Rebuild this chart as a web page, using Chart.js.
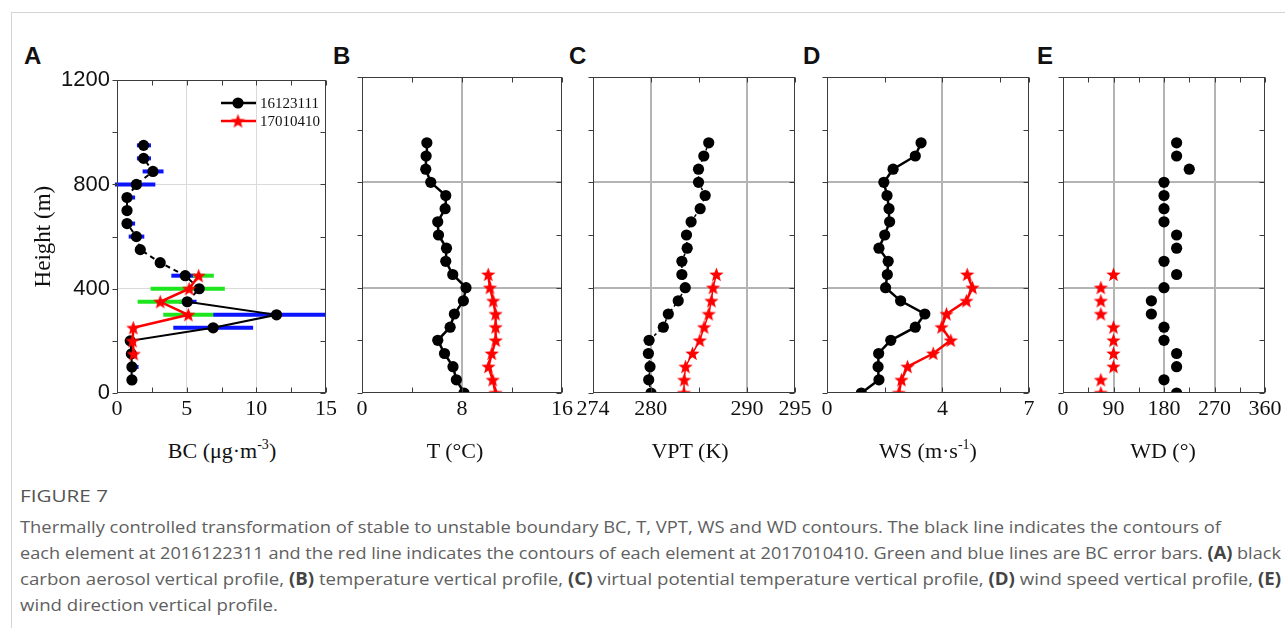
<!DOCTYPE html>
<html>
<head>
<meta charset="utf-8">
<script src="https://cdn.jsdelivr.net/npm/chart.js@4.4.0/dist/chart.umd.min.js"></script>
<style>
html,body{margin:0;padding:0;background:#fff;}
body{width:1285px;height:628px;position:relative;overflow:hidden;}
#frame{position:absolute;left:11px;top:12px;width:1290px;height:640px;border-top:1px solid #d4d4d4;border-left:1px solid #d4d4d4;}
canvas{position:absolute;}
.lbl{position:absolute;top:44px;font:bold 24px "Liberation Sans",Arial,sans-serif;line-height:24px;color:#111;}
.xt{position:absolute;top:438px;font:22px "Liberation Serif","Times New Roman",serif;line-height:26px;color:#111;white-space:nowrap;transform:translateX(-50%);}
.xt sup{font-size:14px;vertical-align:0;position:relative;top:-9px;}
.cap{position:absolute;left:20px;font-family:"Open Sans",sans-serif;font-size:17px;line-height:26px;color:#606060;white-space:nowrap;transform-origin:0 50%;}
.cap b{color:#444;}
#figno{font-size:17px;color:#555;}
</style>
</head>
<body>
<div id="frame"></div>

<div class="lbl" style="left:24px">A</div>
<div class="lbl" style="left:333px">B</div>
<div class="lbl" style="left:569px">C</div>
<div class="lbl" style="left:803px">D</div>
<div class="lbl" style="left:1037px">E</div>

<canvas id="cA"></canvas>
<canvas id="cB"></canvas>
<canvas id="cC"></canvas>
<canvas id="cD"></canvas>
<canvas id="cE"></canvas>

<div class="xt" style="left:222px">BC (μg·m<sup>-3</sup>)</div>
<div class="xt" style="left:455px">T (°C)</div>
<div class="xt" style="left:690px">VPT (K)</div>
<div class="xt" style="left:928px">WS (m·s<sup>-1</sup>)</div>
<div class="xt" style="left:1163px">WD (°)</div>

<div class="cap fit" id="figno" style="top:483px" data-w="88">FIGURE 7</div>
<div class="cap fit" style="top:514px" data-w="1201">Thermally controlled transformation of stable to unstable boundary BC, T, VPT, WS and WD contours. The black line indicates the contours of</div>
<div class="cap fit" style="top:540px" data-w="1261">each element at 2016122311 and the red line indicates the contours of each element at 2017010410. Green and blue lines are BC error bars. <b>(A)</b> black</div>
<div class="cap fit" style="top:566px" data-w="1261">carbon aerosol vertical profile, <b>(B)</b> temperature vertical profile, <b>(C)</b> virtual potential temperature vertical profile, <b>(D)</b> wind speed vertical profile, <b>(E)</b></div>
<div class="cap" id="last" style="top:592px">wind direction vertical profile.</div>

<script>
// heights (m), bottom to top
const heights=[0,50,100,150,200,250,300,350,400,450,500,550,600,650,700,750,800,850,900,950];
const redHeights=[0,50,100,150,200,250,300,350,400,450];
const bcHeights=[50,100,150,200,250,300,350,400,450,500,550,600,650,700,750,800,850,900,950];
const bcRedHeights=[150,200,250,300,350,400,450];

const seriesNames=['16123111','17010410'];

// A: black carbon
const bcBlack=[1.07,1.07,1.03,0.95,6.9,11.45,5.04,5.9,4.9,3.1,1.67,1.39,0.72,0.72,0.72,1.39,2.58,1.91,1.91];
const bcRed=[1.2,1.12,1.17,5.12,3.1,5.18,5.86];
// error bars (blue for black series, green for red series)
const blueErrH=[100,250,300,350,450,600,650,750,800,850,900,950];
const blueErrLo=[0.84,4.04,6.9,4.47,3.9,0.84,0.4,0.4,-0.15,1.84,1.43,1.43];
const blueErrHi=[1.55,9.77,15,5.71,5.6,1.96,1.3,1.3,2.75,3.34,2.44,2.44];
const greenErrH=[300,350,400,450];
const greenErrLo=[3.32,1.48,2.41,5.45];
const greenErrHi=[6.9,5.11,7.74,6.95];

// B: temperature
const tBlack=[8.16,7.55,7.28,6.6,6.06,7.05,7.39,8.11,8.32,7.26,6.7,6.76,6.12,6.06,6.65,6.7,5.5,5.1,5.13,5.19];
const tRed=[10.68,10.46,10.12,10.38,10.7,10.69,10.69,10.5,10.24,10.1];

// C: virtual potential temperature
const vptBlack=[280.03,279.79,279.93,279.76,279.83,281.31,281.83,282.86,283.59,283.24,283.24,283.79,283.72,284.2,285.14,285.66,284.97,284.97,285.52,286.03];
const vptRed=[283.45,283.48,283.62,284.34,285.1,285.55,286.03,286.31,286.48,286.83];

// D: wind speed
const wsBlack=[1.19,1.8,1.77,1.79,2.21,3.06,3.39,2.55,2.03,2.09,2.12,1.8,2.0,2.17,2.15,2.08,1.97,2.29,3.06,3.26];
const wsRed=[2.49,2.58,2.79,3.68,4.29,3.97,4.14,4.83,5.04,4.86];

// E: wind direction
const wdBlack=[202.5,180,202.5,202.5,180,180,157.5,157.5,180,202.5,180,202.5,202.5,180,180,180,180,225,202.5,202.5];
const wdRed=[67.5,67.5,90,90,90,90,67.5,67.5,67.5,90];

// ticks
const yTicks=[0,200,400,600,800,1000,1200];
const yLabels=[0,400,800,1200];
const yGrid=[400,800];
const bcTicks=[0,2.5,5,7.5,10,12.5,15], bcLabels=[0,5,10,15], bcGrid=[5,10];
const tTicks=[0,4,8,12,16], tLabels=[0,8,16], tGrid=[8];
const vptTicks=[274,280,285,290,295], vptLabels=[274,280,290,295], vptGrid=[280,290];
const wsTicks=[0,2,4,6,7], wsLabels=[0,4,7], wsGrid=[4];
const wdTicks=[0,45,90,135,180,225,270,315,360], wdLabels=[0,90,180,270,360], wdGrid=[90,180,270];

const CANVAS_TOP=60, PAD_TOP=17, PLOT_H=316, X_AXIS_H=40;

function xy(xs,hs){return xs.map((v,i)=>({x:v,y:hs[i]}));}

function starImage(r,color){
  const s=Math.ceil(r*2+2), c=document.createElement('canvas');
  c.width=s;c.height=s;
  const g=c.getContext('2d');
  g.fillStyle=color;g.beginPath();
  for(let i=0;i<10;i++){
    const a=-Math.PI/2+i*Math.PI/5, rr=i%2?r*0.43:r;
    g.lineTo(s/2+rr*Math.cos(a),s/2+rr*Math.sin(a)+r*0.08);
  }
  g.closePath();g.fill();
  return c;
}
const star=starImage(7.5,'#ff0000');

const framePlugin={id:'frame',afterDraw(chart){
  const {ctx,chartArea:a,scales:{x,y}}=chart;
  const L=Math.round(a.left)+.5,R=Math.round(a.right)-.5,T=Math.round(a.top)+.5,B=Math.round(a.bottom)-.5;
  ctx.save();
  ctx.strokeStyle='#3c3c3c';ctx.lineWidth=1;
  ctx.strokeRect(L,T,R-L,B-T);
  ctx.beginPath();
  x.ticks.forEach(t=>{
    const px=Math.round(x.getPixelForValue(t.value))+.5;
    ctx.moveTo(px,B);ctx.lineTo(px,B-5);
    ctx.moveTo(px,T);ctx.lineTo(px,T+5);
  });
  y.ticks.forEach(t=>{
    const py=Math.round(y.getPixelForValue(t.value))+.5;
    ctx.moveTo(L-5,py);ctx.lineTo(L,py);
    ctx.moveTo(R-5,py);ctx.lineTo(R,py);
  });
  ctx.stroke();ctx.restore();
}};

const errorBarPlugin={id:'errbars',beforeDatasetsDraw(chart){
  const {ctx,scales:{x,y}}=chart;
  ctx.save();ctx.lineWidth=4;ctx.lineCap='butt';
  const draw=(hs,lo,hi,col)=>{
    ctx.strokeStyle=col;
    hs.forEach((h,i)=>{
      const py=y.getPixelForValue(h);
      ctx.beginPath();
      ctx.moveTo(x.getPixelForValue(lo[i]),py);
      ctx.lineTo(x.getPixelForValue(hi[i]),py);
      ctx.stroke();
    });
  };
  draw(blueErrH,blueErrLo,blueErrHi,'#0a14ff');
  draw(greenErrH,greenErrLo,greenErrHi,'#1ee61e');
  ctx.restore();
}};

const legendPlugin={id:'legendA',afterDraw(chart){
  const ctx=chart.ctx;
  ctx.save();
  seriesNames.forEach((name,i)=>{
    const yy=43+i*18;
    ctx.strokeStyle=i?'#ff0000':'#000';ctx.lineWidth=2.5;
    ctx.beginPath();ctx.moveTo(221,yy);ctx.lineTo(256,yy);ctx.stroke();
    if(i){ctx.drawImage(star,238-star.width/2,yy-star.height/2);}
    else{ctx.fillStyle='#000';ctx.beginPath();ctx.arc(238,yy,5.6,0,Math.PI*2);ctx.fill();}
    ctx.fillStyle='#111';ctx.font='15px "Liberation Serif"';ctx.textBaseline='middle';
    ctx.fillText(name,260,yy+1);
  });
  ctx.restore();
}};

function gridColor(list,col){
  return c=>(c.tick&&list.includes(c.tick.value))?col:'rgba(0,0,0,0)';
}

function makePanel(id,p){
  const cv=document.getElementById(id);
  const W=p.yw+(p.plotRight-p.plotLeft)+p.padR, H=PAD_TOP+PLOT_H+X_AXIS_H;
  cv.width=W;cv.height=H;
  cv.style.width=W+'px';cv.style.height=H+'px';
  cv.style.left=(p.plotLeft-p.yw)+'px';cv.style.top=CANVAS_TOP+'px';
  const gcol=p.light?'#dadada':'#b4b4b4', gw=p.light?1:2;
  new Chart(cv,{
    type:'scatter',
    data:{datasets:p.datasets},
    options:{
      responsive:false,animation:false,devicePixelRatio:1,
      layout:{padding:{top:PAD_TOP,right:p.padR,left:0,bottom:0}},
      plugins:{legend:{display:false},tooltip:{enabled:false}},
      scales:{
        x:{type:'linear',min:p.xMin,max:p.xMax,
          afterBuildTicks:s=>{s.ticks=p.xTicks.map(v=>({value:v}));},
          afterFit:s=>{s.height=X_AXIS_H;},
          ticks:{autoSkip:false,maxRotation:0,padding:3,color:'#111',
            font:{family:'"Liberation Serif"',size:22},
            callback:v=>p.xLabels.includes(v)?String(v):''},
          grid:{drawTicks:false,color:gridColor(p.xGrid,gcol),lineWidth:gw},
          border:{display:false}},
        y:{type:'linear',min:0,max:1200,
          afterBuildTicks:s=>{s.ticks=yTicks.map(v=>({value:v}));},
          afterFit:s=>{s.width=p.yw;},
          ticks:{display:!!p.yLabels,autoSkip:false,padding:7,color:'#111',
            font:{family:'"Liberation Sans"',size:22},
            callback:v=>yLabels.includes(v)?String(v):''},
          title:{display:!!p.yLabels,text:'Height (m)',color:'#111',
            font:{family:'"Liberation Serif"',size:23,lineHeight:1.2},padding:{top:30,bottom:0}},
          grid:{drawTicks:false,color:gridColor(yGrid,gcol),lineWidth:gw},
          border:{display:false}}
      }
    },
    plugins:[framePlugin].concat(p.plugins||[])
  });
}

function lineSet(data,color,width,opts){
  return Object.assign({data,showLine:true,borderColor:color,borderWidth:width,
    backgroundColor:color,pointBackgroundColor:color,pointBorderWidth:0,
    pointRadius:5.6,pointHoverRadius:5.6,clip:0},opts||{});
}

window.addEventListener('load',()=>{
  makePanel('cA',{plotLeft:117,plotRight:326,yw:117,padR:22,light:true,yLabels:true,
    xMin:0,xMax:15,xTicks:bcTicks,xLabels:bcLabels,xGrid:bcGrid,
    plugins:[errorBarPlugin,legendPlugin],
    datasets:[
      lineSet(xy(bcBlack,bcHeights),'#000',2,{order:1,
        segment:{borderDash:c=>(c.p0.parsed.y>=350&&c.p1.parsed.y>=350)?[5,4]:undefined}}),
      lineSet(xy(bcRed,bcRedHeights),'#ff0000',2.5,{order:0,pointStyle:star})
    ]});
  makePanel('cB',{plotLeft:362,plotRight:562,yw:22,padR:22,
    xMin:0,xMax:16,xTicks:tTicks,xLabels:tLabels,xGrid:tGrid,
    datasets:[
      lineSet(xy(tBlack,heights),'#000',2.5,{order:1}),
      lineSet(xy(tRed,redHeights),'#ff0000',2.5,{order:0,pointStyle:star})
    ]});
  makePanel('cC',{plotLeft:593,plotRight:795,yw:22,padR:25,
    xMin:274,xMax:295,xTicks:vptTicks,xLabels:vptLabels,xGrid:vptGrid,
    datasets:[
      lineSet(xy(vptBlack,heights),'#000',1.5,{order:1,borderDash:[3,3]}),
      lineSet(xy(vptRed,redHeights),'#ff0000',1.5,{order:0,pointStyle:star})
    ]});
  makePanel('cD',{plotLeft:827,plotRight:1029,yw:22,padR:22,
    xMin:0,xMax:7,xTicks:wsTicks,xLabels:wsLabels,xGrid:wsGrid,
    datasets:[
      lineSet(xy(wsBlack,heights),'#000',2.5,{order:1}),
      lineSet(xy(wsRed,redHeights),'#ff0000',2.5,{order:0,pointStyle:star})
    ]});
  makePanel('cE',{plotLeft:1063,plotRight:1265,yw:22,padR:20,
    xMin:0,xMax:360,xTicks:wdTicks,xLabels:wdLabels,xGrid:wdGrid,
    datasets:[
      lineSet(xy(wdBlack,heights),'#000',0,{order:1,showLine:false}),
      lineSet(xy(wdRed,redHeights),'#ff0000',0,{order:0,showLine:false,pointStyle:star})
    ]});

  // squeeze caption lines horizontally to the widths of the reference (condensed face)
  let k=1;
  document.querySelectorAll('.fit').forEach(el=>{
    const w=el.getBoundingClientRect().width;
    const s=parseFloat(el.dataset.w)/w;
    el.style.transform='scaleX('+s.toFixed(4)+')';
    if(el.id!=='figno') k=s;
  });
  document.getElementById('last').style.transform='scaleX('+k.toFixed(4)+')';
});
</script>
</body>
</html>
